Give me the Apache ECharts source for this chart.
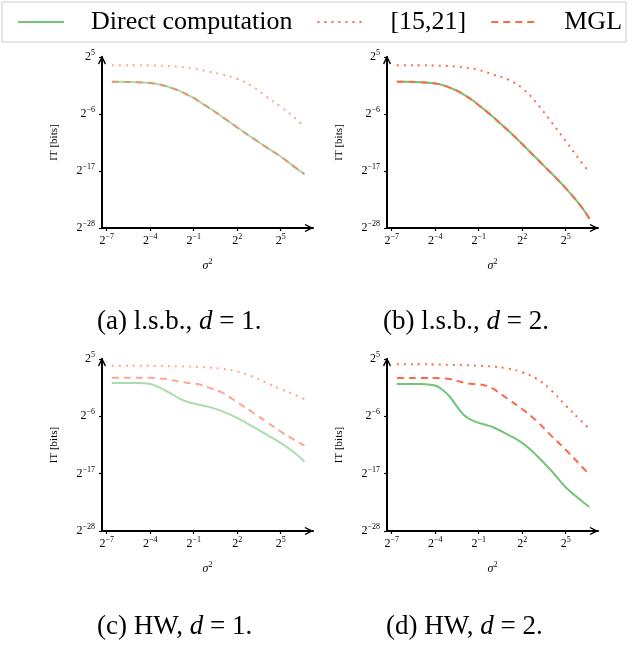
<!DOCTYPE html>
<html>
<head>
<meta charset="utf-8">
<script src="https://cdn.jsdelivr.net/npm/echarts@6/dist/echarts.min.js"></script>
<style>
  html, body { margin: 0; padding: 0; background: #fff; }
  #main { width: 629px; height: 650px; }
</style>
</head>
<body>
<div id="main"></div>
<script>
var myChart = echarts.init(document.getElementById('main'));

var SERIF = '"Liberation Serif", "DejaVu Serif", serif';
var GREEN = '#74c476';
var RED = '#fb6a4a';

// log2 of sigma^2 (0.01 .. 100)
var sigmaExp = [-6.64, -6, -5, -4, -3.5, -3, -2.5, -2, -1.5, -1, -0.5, 0, 1, 2, 3, 4, 5, 6, 6.64];
var xTicks = [-7, -4, -1, 2, 5];

// log2 of IT [bits]
// (a) l.s.b., d = 1
var directA = [0.2, 0.2, 0.15, 0.0, -0.2, -0.55, -1.0, -1.5, -2.2, -2.9, -3.8, -4.7, -6.6, -8.6, -10.5, -12.4, -14.2, -16.3, -17.6];
var refA    = [3.4, 3.4, 3.4, 3.38, 3.35, 3.3, 3.2, 3.1, 2.95, 2.75, 2.5, 2.2, 1.6, 0.8, -0.6, -2.6, -4.6, -6.8, -8.6];
var mglA    = [0.2, 0.2, 0.15, 0.0, -0.2, -0.55, -1.0, -1.5, -2.2, -2.9, -3.8, -4.7, -6.6, -8.6, -10.5, -12.4, -14.2, -16.3, -17.6];
// (b) l.s.b., d = 2
var directB = [0.2, 0.2, 0.15, -0.1, -0.4, -0.9, -1.5, -2.3, -3.2, -4.3, -5.4, -6.6, -9.1, -11.8, -14.6, -17.4, -20.3, -23.6, -26.2];
var refB    = [3.4, 3.4, 3.4, 3.35, 3.3, 3.25, 3.15, 3.0, 2.8, 2.5, 2.1, 1.6, 0.7, -1.0, -3.9, -7.5, -11.2, -15.0, -17.3];
var mglB    = [0.2, 0.2, 0.15, -0.1, -0.4, -0.9, -1.5, -2.3, -3.2, -4.3, -5.4, -6.6, -9.1, -11.8, -14.6, -17.4, -20.3, -23.6, -26.2];
// (c) HW, d = 1
var directC = [0.4, 0.4, 0.38, 0.2, -0.3, -0.95, -1.75, -2.55, -3.15, -3.55, -3.85, -4.13, -5.05, -6.3, -7.85, -9.45, -11.1, -13.1, -14.7];
var refC    = [3.7, 3.7, 3.7, 3.68, 3.66, 3.64, 3.62, 3.6, 3.56, 3.52, 3.45, 3.38, 3.1, 2.6, 1.7, 0.45, -0.75, -1.9, -2.7];
var mglC    = [1.4, 1.4, 1.4, 1.38, 1.3, 1.2, 0.95, 0.65, 0.45, 0.3, 0.05, -0.45, -1.5, -3.3, -5.1, -7.0, -8.9, -10.6, -11.6];
// (d) HW, d = 2
var directD = [0.2, 0.2, 0.2, -0.1, -0.9, -2.2, -4.1, -5.8, -6.7, -7.25, -7.65, -8.1, -9.5, -11.1, -13.5, -16.4, -19.6, -22.0, -23.4];
var refD    = [4.0, 4.0, 4.0, 3.95, 3.93, 3.9, 3.85, 3.82, 3.77, 3.7, 3.65, 3.55, 3.2, 2.45, 1.2, -1.0, -3.9, -6.7, -8.4];
var mglD    = [1.36, 1.36, 1.36, 1.35, 1.3, 1.17, 0.8, 0.45, 0.25, 0.15, -0.1, -0.7, -2.65, -4.6, -6.9, -9.7, -12.4, -15.3, -17.2];

var panels = [
    { left: 102, top: 57,  height: 171, fade: true,  direct: directA, ref: refA, mgl: mglA, caption: '(a) l.s.b., {i|d} = 1.', capLeft: 97,  capTop: 308 },
    { left: 387, top: 57,  height: 171, fade: false, direct: directB, ref: refB, mgl: mglB, caption: '(b) l.s.b., {i|d} = 2.', capLeft: 383, capTop: 308 },
    { left: 102, top: 359, height: 172, fade: true,  direct: directC, ref: refC, mgl: mglC, caption: '(c) HW, {i|d} = 1.',     capLeft: 97,  capTop: 613 },
    { left: 387, top: 359, height: 172, fade: false, direct: directD, ref: refD, mgl: mglD, caption: '(d) HW, {i|d} = 2.',     capLeft: 386, capTop: 613 }
];

var ARROW = 'path://M5,0 L10,10 L8.6,11 L5,4 L1.4,11 L0,10 Z';

var powRich = {
    b: { fontFamily: SERIF, fontSize: 12, color: '#000', lineHeight: 16 },
    e: { fontFamily: SERIF, fontSize: 8, color: '#000', lineHeight: 9, verticalAlign: 'top' }
};
function pow2(v) {
    var n = Math.round(v);
    var s = n < 0 ? '\u2212' + (-n) : '' + n;
    return '{b|2}{e|' + s + '}';
}

function pairs(ys) {
    return sigmaExp.map(function (x, i) { return [x, ys[i]]; });
}

var grids = [], xAxes = [], yAxes = [], series = [], titles = [];
panels.forEach(function (p, i) {
    grids.push({ left: p.left, top: p.top, width: 211, height: p.height });
    xAxes.push({
        type: 'value', gridIndex: i, min: -7.32, max: 7.23,
        axisLine: { show: true, onZero: false, lineStyle: { color: '#000', width: 2 }, symbol: ['none', ARROW], symbolSize: [8, 9], symbolOffset: [0, -4] },
        axisTick: { show: true, customValues: xTicks, length: 3, lineStyle: { color: '#000', width: 1.2 } },
        axisLabel: { customValues: xTicks, formatter: pow2, rich: powRich, margin: 5 },
        splitLine: { show: false },
        name: '{s|\u03c3}{e|2}', nameLocation: 'middle', nameGap: 30,
        nameTextStyle: { rich: {
            s: { fontFamily: SERIF, fontStyle: 'italic', fontSize: 12, color: '#000', lineHeight: 16 },
            e: { fontFamily: SERIF, fontSize: 8, color: '#000', lineHeight: 9, verticalAlign: 'top' }
        } }
    });
    yAxes.push({
        type: 'value', gridIndex: i, min: -28, max: 5, interval: 11,
        axisLine: { show: true, onZero: false, lineStyle: { color: '#000', width: 2 }, symbol: ['none', ARROW], symbolSize: [8, 9], symbolOffset: [0, -3] },
        axisTick: { show: true, length: 3, lineStyle: { color: '#000', width: 1.2 } },
        axisLabel: { formatter: pow2, rich: powRich, margin: 7 },
        splitLine: { show: false },
        name: 'IT [bits]', nameLocation: 'middle', nameGap: 42,
        nameTextStyle: { fontFamily: SERIF, fontSize: 11, color: '#000' }
    });
    var op = p.fade ? 0.6 : 1;
    series.push({
        name: '[15,21]', type: 'line', xAxisIndex: i, yAxisIndex: i, data: pairs(p.ref),
        smooth: 0.4, showSymbol: false, symbol: 'none',
        lineStyle: { color: RED, width: 2, type: [2, 5], opacity: op }, itemStyle: { color: RED }
    });
    series.push({
        name: 'Direct computation', type: 'line', xAxisIndex: i, yAxisIndex: i, data: pairs(p.direct),
        smooth: 0.4, showSymbol: false, symbol: 'none',
        lineStyle: { color: GREEN, width: 2, type: 'solid', opacity: op }, itemStyle: { color: GREEN }
    });
    series.push({
        name: 'MGL', type: 'line', xAxisIndex: i, yAxisIndex: i, data: pairs(p.mgl),
        smooth: 0.4, showSymbol: false, symbol: 'none',
        lineStyle: { color: RED, width: 2, type: [7, 5], opacity: op }, itemStyle: { color: RED }
    });
    titles.push({
        text: p.caption, left: p.capLeft, top: p.capTop, padding: 0,
        textStyle: {
            fontFamily: SERIF, fontSize: 27, fontWeight: 'normal', color: '#000',
            rich: { i: { fontFamily: SERIF, fontStyle: 'italic', fontSize: 27, color: '#000' } }
        }
    });
});

option = {
    animation: false,
    title: titles,
    legend: {
        left: 2, top: 2, width: 700, padding: [7, 4, 7, 15],
        borderColor: '#cccccc', borderWidth: 1,
        itemWidth: 46, itemHeight: 14, itemGap: 24,
        itemStyle: { opacity: 0 },
        textStyle: { fontFamily: SERIF, fontSize: 26, color: '#000', padding: [0, 0, 0, 22] },
        data: [
            { name: 'Direct computation', lineStyle: { opacity: 1 } },
            { name: '[15,21]', lineStyle: { opacity: 1 } },
            { name: 'MGL', lineStyle: { opacity: 1 } }
        ]
    },
    grid: grids,
    xAxis: xAxes,
    yAxis: yAxes,
    series: series
};

myChart.setOption(option);
</script>
</body>
</html>
